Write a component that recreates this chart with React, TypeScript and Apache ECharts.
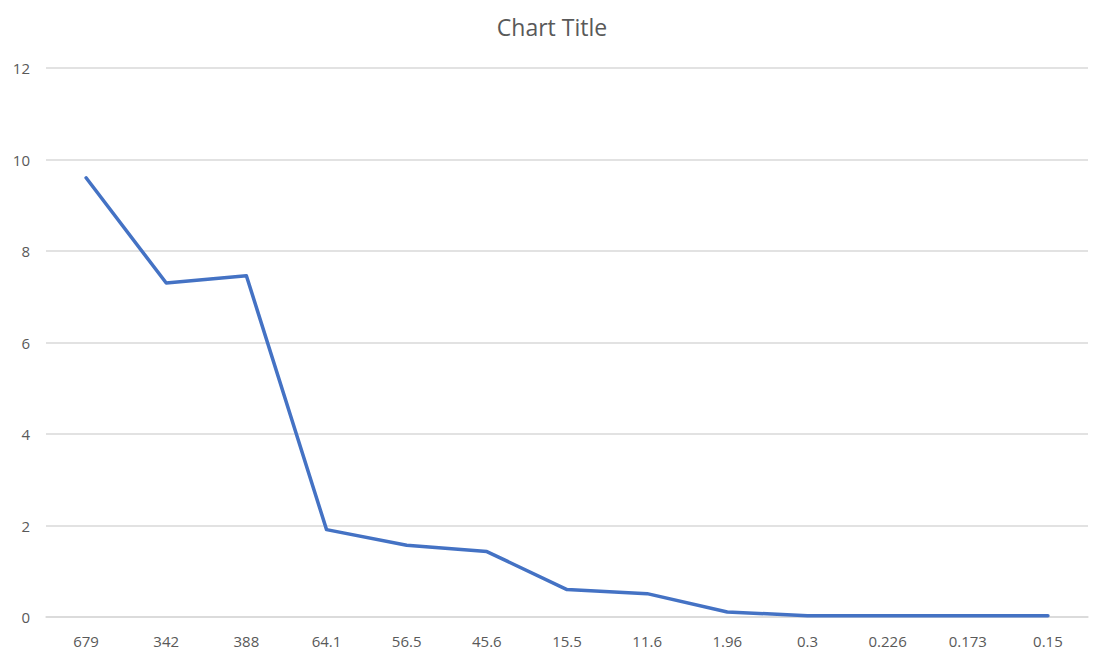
import React, { useEffect, useRef } from "react";
import * as echarts from "echarts";

const categories = ["679", "342", "388", "64.1", "56.5", "45.6", "15.5", "11.6", "1.96", "0.3", "0.226", "0.173", "0.15"];
const values = [9.6, 7.3, 7.46, 1.91, 1.57, 1.43, 0.6, 0.51, 0.11, 0.03, 0.03, 0.03, 0.03];
const yTicks = { min: 0, max: 12, interval: 2 };

export default function App() {
  const ref = useRef<HTMLDivElement>(null);
  useEffect(() => {
    if (!ref.current) return;
    const chart = echarts.init(ref.current, null, { renderer: "svg" });
    chart.setOption({
      animation: false,
      backgroundColor: "#ffffff",
      title: {
        text: "Chart Title",
        left: "center",
        top: 10,
        textStyle: { fontFamily: "Open Sans", fontSize: 23, fontWeight: "normal", color: "#595959" },
      },
      grid: { left: 46, right: 16, top: 68, bottom: 41 },
      xAxis: {
        type: "category",
        data: categories,
        boundaryGap: true,
        axisLine: { show: true, lineStyle: { color: "#D9D9D9", width: 1.5 } },
        axisTick: { show: false },
        axisLabel: { margin: 16, fontFamily: "Open Sans", fontSize: 15, color: "#595959" },
      },
      yAxis: {
        type: "value",
        min: yTicks.min,
        max: yTicks.max,
        interval: yTicks.interval,
        axisLine: { show: false },
        axisTick: { show: false },
        axisLabel: { margin: 16, fontFamily: "Open Sans", fontSize: 15, color: "#595959" },
        splitLine: { lineStyle: { color: "#D9D9D9", width: 1.5 } },
      },
      series: [
        {
          type: "line",
          data: values,
          symbol: "none",
          lineStyle: { color: "#4472C4", width: 3.5, cap: "round", join: "round" },
        },
      ],
    });
    return () => chart.dispose();
  }, []);
  return <div ref={ref} style={{ position: "fixed", left: 0, top: 0, width: 1104, height: 658 }} />;
}
